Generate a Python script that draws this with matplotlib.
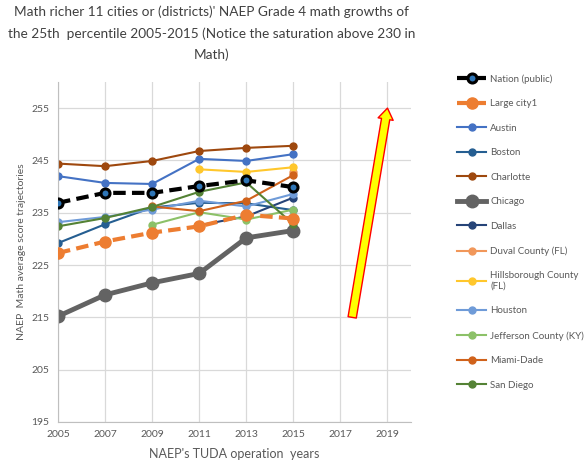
import numpy as np
import matplotlib
matplotlib.use("Agg")
import matplotlib.pyplot as plt

nan = np.nan

years = [2005, 2007, 2009, 2011, 2013, 2015]

nation = [236.9, 238.8, 238.8, 240.1, 241.2, 239.9]
large_city = [227.3, 229.5, 231.2, 232.4, 234.6, 233.9]
austin = [242.0, 240.7, 240.5, 245.3, 244.9, 246.2]
boston = [229.2, 232.8, 236.0, 236.9, 236.8, 235.5]
charlotte = [244.4, 243.9, 244.9, 246.8, 247.4, 247.8]
chicago = [215.2, 219.3, 221.6, 223.4, 230.2, 231.6]
dallas = [nan, nan, nan, 232.6, 234.3, 237.9]
duval = [nan, nan, nan, nan, nan, 242.8]
hillsborough = [nan, nan, nan, 243.3, 242.8, 243.7]
houston = [233.2, 234.2, 235.6, 237.3, 236.2, 238.6]
jefferson = [nan, nan, 232.7, 235.1, 233.7, 235.6]
miami = [nan, nan, 236.2, 235.3, 237.3, 242.2]
san_diego = [232.4, 234.0, 236.1, 239.0, 240.8, 232.8]

title = ("Math richer 11 cities or (districts)' NAEP Grade 4 math growths of\n"
         "the 25th  percentile 2005-2015 (Notice the saturation above 230 in\n"
         "Math)")

plt.rcParams['font.family'] = ['Lato', 'DejaVu Sans']
txt = '#595959'

fig = plt.figure(figsize=(5.87, 4.61), dpi=100)
ax = fig.add_axes([0.0988, 0.0846, 0.6014, 0.7376])

ax.plot(years, nation, color='black', lw=3, ls=(0, (3, 1.5)), marker='o', ms=6.5,
        mfc='#2E75B6', mec='black', mew=2.2, label='Nation (public)', zorder=5)
ax.plot(years, large_city, color='#ED7D31', lw=3, ls=(0, (3, 1.5)), marker='o', ms=8,
        label='Large city1', zorder=4)
ax.plot(years, austin, color='#4472C4', lw=1.5, marker='o', ms=5, label='Austin')
ax.plot(years, boston, color='#255E91', lw=1.5, marker='o', ms=5, label='Boston')
ax.plot(years, charlotte, color='#9E480E', lw=1.5, marker='o', ms=5, label='Charlotte')
ax.plot(years, chicago, color='#636363', lw=3.5, marker='o', ms=9, label='Chicago')
ax.plot(years, dallas, color='#264478', lw=1.5, marker='o', ms=5, label='Dallas')
ax.plot(years, duval, color='#F1975A', lw=1.5, marker='o', ms=5, label='Duval County (FL)')
ax.plot(years, hillsborough, color='#FFC72C', lw=1.5, marker='o', ms=5,
        label='Hillsborough County\n(FL)')
ax.plot(years, houston, color='#6F9BD8', lw=1.5, marker='o', ms=5, label='Houston')
ax.plot(years, jefferson, color='#8CC168', lw=1.5, marker='o', ms=5, label='Jefferson County (KY)')
ax.plot(years, miami, color='#D0621B', lw=1.5, marker='o', ms=5, label='Miami-Dade')
ax.plot(years, san_diego, color='#548235', lw=1.5, marker='o', ms=5, label='San Diego')

# arrow pointing up
ax.annotate('', xy=(2019, 255), xytext=(2017.5, 215),
            arrowprops=dict(arrowstyle='simple,head_width=0.55,head_length=0.4,tail_width=0.3',
                            mutation_scale=20, fc='#FFFF00', ec='#FF0000', lw=1,
                            shrinkA=0, shrinkB=0))

ax.set_xlim(2005, 2020)
ax.set_ylim(195, 260)
ax.set_xticks(range(2005, 2020, 2))
ax.set_yticks(range(195, 256, 10))
ax.grid(True, color='#D9D9D9', lw=0.9)
ax.set_axisbelow(True)
for s in ['top', 'right']:
    ax.spines[s].set_visible(False)
for s in ['left', 'bottom']:
    ax.spines[s].set_color('#BFBFBF')
ax.tick_params(length=0, labelsize=7.5, colors=txt, pad=6)

ax.set_xlabel("NAEP's TUDA operation  years", fontsize=9, color=txt, labelpad=6)
ax.set_ylabel("NAEP  Math average score trajectories", fontsize=7.5, color=txt, labelpad=4)

fig.text(0.36, 0.988, title, ha='center', va='top', fontsize=9.8, color='#404040',
         linespacing=1.85)

fig.legend(loc='upper left', bbox_to_anchor=(0.772, 0.848), frameon=False,
           fontsize=7, labelcolor=txt, handlelength=3, handletextpad=0.4,
           labelspacing=1.6, borderaxespad=0)

fig.savefig('out.png', dpi=100)
